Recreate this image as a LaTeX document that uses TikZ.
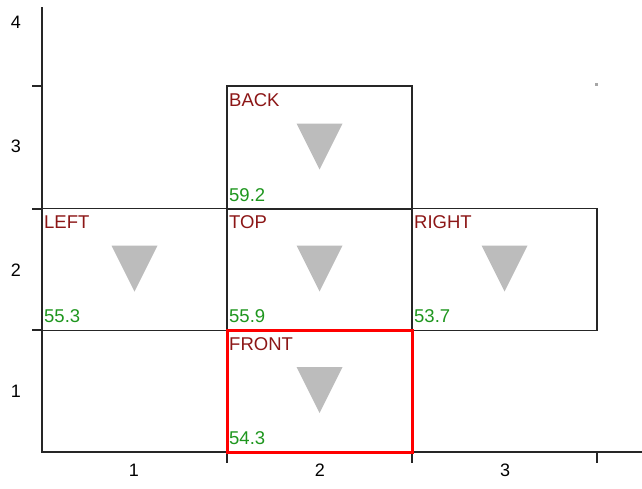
\documentclass[tikz,border=0pt]{standalone}
\usepackage{fontspec}
\setmainfont{Liberation Sans}
\usetikzlibrary{positioning}
\definecolor{facered}{RGB}{140,22,22}
\definecolor{valgreen}{RGB}{30,150,30}
\definecolor{trigray}{RGB}{188,188,188}

\tikzset{
  face/.style={draw=black!85, line width=1.8pt, minimum width=185pt, minimum height=122pt, inner sep=0pt, outer sep=0pt},
  facename/.style={text=facered, font=\fontsize{18.5}{18.5}\selectfont, anchor=base west, inner sep=0pt},
  faceval/.style={text=valgreen, font=\fontsize{18.5}{18.5}\selectfont, anchor=base west, inner sep=0pt},
  ticklbl/.style={font=\fontsize{18}{18}\selectfont, inner sep=0pt},
  axis/.style={draw=black!85, line width=1.8pt}
}

\newcommand{\marker}[1]{\fill[trigray] ([shift={(-23,-24)}]#1.center) -- ++(46,0) -- ++(-23,46) -- cycle;}

\begin{document}
\begin{tikzpicture}[x=1pt, y=-1pt]
    \useasboundingbox (0,0) rectangle (642,488);
    % axes and ticks
    \draw[axis] (42,7) -- (42,452) -- (642,452);
    \draw[axis] (32,86) -- (42,86) (32,209) -- (42,209) (32,330) -- (42,330);
    \draw[axis] (227,452) -- (227,463) (412,452) -- (412,463) (597,452) -- (597,463);
    \fill[black!35] (595,83) rectangle (598,86);
    \node[ticklbl] (y4) at (16,22) {4};
    \node[ticklbl] (y3) at (16,146) {3};
    \node[ticklbl] (y2) at (16,270) {2};
    \node[ticklbl] (y1) at (16,391) {1};
    \node[ticklbl] (x1) at (134,470) {1};
    \node[ticklbl] (x2) at (320,470) {2};
    \node[ticklbl] (x3) at (505,470) {3};
    % faces
    \node[face, minimum height=123pt] (back) at (319.5,147.5) {};
    \node[face] (left) at (134.5,269.5) {};
    \node[face] (top) at (319.5,269.5) {};
    \node[face] (right) at (504.5,269.5) {};
    \node[face, draw=red, line width=3pt] (front) at (319.5,391) {};
    % names
    \node[facename] (backname) at ([shift={(2,20)}]back.north west) {BACK};
    \node[facename] (leftname) at ([shift={(2,20)}]left.north west) {LEFT};
    \node[facename] (topname) at ([shift={(2,20)}]top.north west) {TOP};
    \node[facename] (rightname) at ([shift={(2,20)}]right.north west) {RIGHT};
    \node[facename] (frontname) at ([shift={(2,20)}]front.north west) {FRONT};
    % values
    \node[faceval] (backval) at ([shift={(2,-8)}]back.south west) {59.2};
    \node[faceval] (leftval) at ([shift={(2,-8)}]left.south west) {55.3};
    \node[faceval] (topval) at ([shift={(2,-8)}]top.south west) {55.9};
    \node[faceval] (rightval) at ([shift={(2,-8)}]right.south west) {53.7};
    \node[faceval] (frontval) at ([shift={(2,-8)}]front.south west) {54.3};
    % markers
    \marker{back} \marker{left} \marker{top} \marker{right} \marker{front}
\end{tikzpicture}
\end{document}
